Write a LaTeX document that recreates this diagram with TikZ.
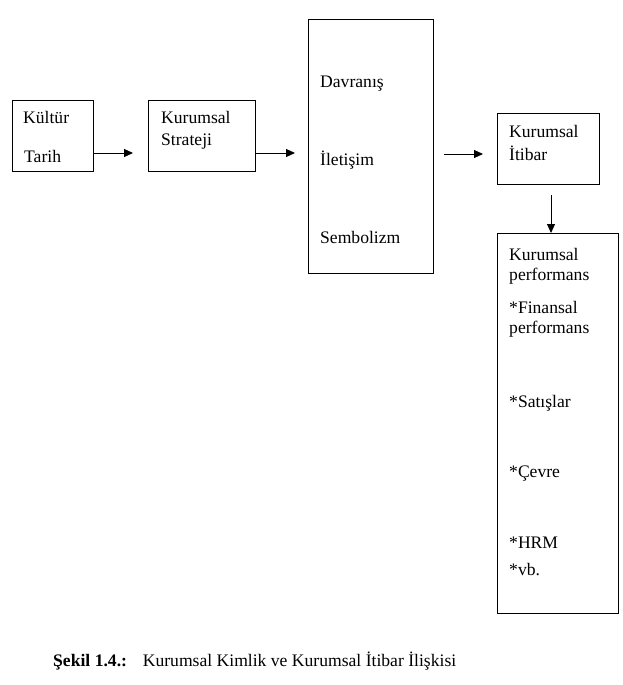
\documentclass[tikz,border=0pt]{standalone}
\usepackage{fontspec}
\setmainfont{Liberation Serif}
\usetikzlibrary{arrows.meta}
\begin{document}
\begin{tikzpicture}[x=1pt,y=-1pt,
  box/.style={draw,line width=1.1pt,inner sep=0pt,anchor=north west},
  txt/.style={anchor=base west,inner sep=0pt,font=\fontsize{17.6}{20}\selectfont},
  arr/.style={line width=1pt,-{Triangle[length=9pt,width=8pt]}}]
\useasboundingbox (0,0) rectangle (622,685);
% boxes
\node[box,minimum width=81pt,minimum height=71pt] (b1) at (12,100) {};
\node[box,minimum width=107pt,minimum height=71pt] (b2) at (148,100) {};
\node[box,minimum width=125pt,minimum height=254pt] (b3) at (308,19) {};
\node[box,minimum width=102pt,minimum height=71pt] (b4) at (497,113) {};
\node[box,minimum width=121pt,minimum height=380pt] (b5) at (497,233) {};
% texts
\node[txt] (k1) at (23,123) {Kültür};
\node[txt] (k2) at (24,162) {Tarih};
\node[txt] (s1) at (161,123) {Kurumsal};
\node[txt] (s2) at (161,145) {Strateji};
\node[txt] (d1) at (320,87) {Davranış};
\node[txt] (d2) at (320,165) {İletişim};
\node[txt] (d3) at (320,243) {Sembolizm};
\node[txt] (i1) at (509,137) {Kurumsal};
\node[txt] (i2) at (509,160) {İtibar};
\node[txt] (p1) at (509,260) {Kurumsal};
\node[txt] (p2) at (509,280) {performans};
\node[txt] (p3) at (509,313) {*Finansal};
\node[txt] (p4) at (509,333) {performans};
\node[txt] (p5) at (509,407) {*Satışlar};
\node[txt] (p6) at (509,477) {*Çevre};
\node[txt] (p7) at (509,548) {*HRM};
\node[txt] (p8) at (509,575) {*vb.};
\node[txt] (cap) at (53,666) {\textbf{Şekil 1.4.:}\hspace{0.9em}Kurumsal Kimlik ve Kurumsal İtibar İlişkisi};
% connectors
\coordinate (a1) at (0,153);
\coordinate (a3) at (0,154);
\draw[arr,shorten >=15pt] (b1.east |- a1) -- (b2.west |- a1);
\draw[arr,shorten >=13pt] (b2.east |- a1) -- (b3.west |- a1);
\draw[arr,shorten <=10pt,shorten >=14pt] (b3.east |- a3) -- (b4.west |- a3);
\coordinate (a4) at (551,0);
\draw[arr,shorten <=10pt] (b4.south -| a4) -- (b5.north -| a4);
\end{tikzpicture}
\end{document}
